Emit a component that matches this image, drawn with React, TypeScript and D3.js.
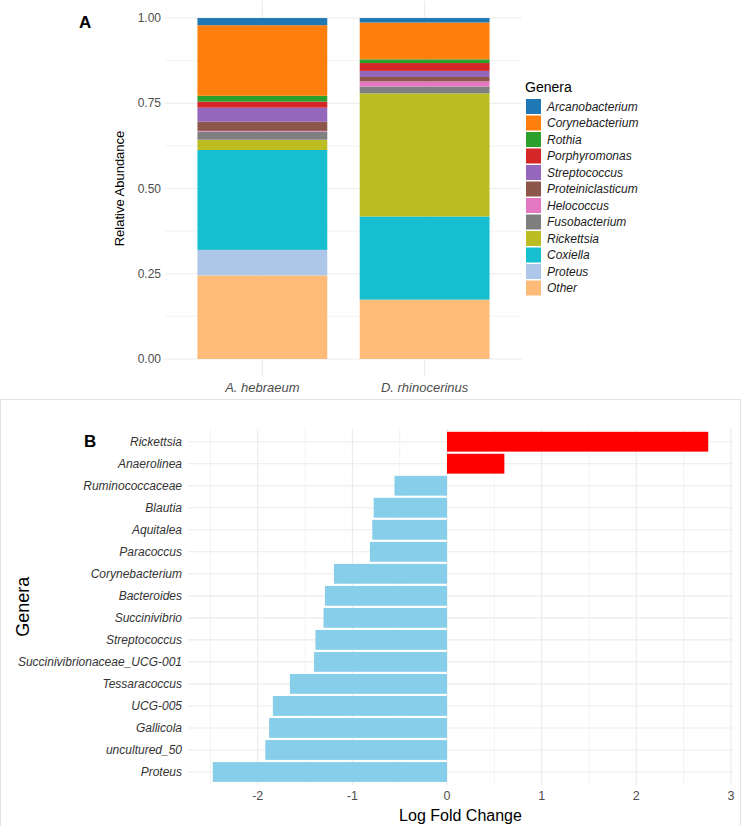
import * as d3 from 'd3';

// Panel A: relative abundance per tick species
const samples = ['A. hebraeum', 'D. rhinocerinus'];
const genera = [
  'Arcanobacterium', 'Corynebacterium', 'Rothia', 'Porphyromonas', 'Streptococcus',
  'Proteiniclasticum', 'Helococcus', 'Fusobacterium', 'Rickettsia', 'Coxiella', 'Proteus', 'Other'
];
const generaColors = [
  '#1F77B4', '#FF7F0E', '#2CA02C', '#D62728', '#9467BD',
  '#8C564B', '#E377C2', '#7F7F7F', '#BCBD22', '#17BECF', '#AEC7E8', '#FFBB78'
];
// values per genus, [A. hebraeum, D. rhinocerinus]
const arcanobacterium = [0.021, 0.013];
const corynebacterium = [0.207, 0.108];
const rothia = [0.017, 0.011];
const porphyromonas = [0.018, 0.023];
const streptococcus = [0.041, 0.018];
const proteiniclasticum = [0.027, 0.013];
const helococcus = [0.002, 0.015];
const fusobacterium = [0.024, 0.02];
const rickettsia = [0.03, 0.361];
const coxiella = [0.293, 0.244];
const proteus = [0.075, 0.0];
const other = [0.245, 0.174];
const abundanceTicks = [0, 0.25, 0.5, 0.75, 1];

// Panel B: log fold change
const lfcGenera = [
  'Rickettsia', 'Anaerolinea', 'Ruminococcaceae', 'Blautia', 'Aquitalea', 'Paracoccus',
  'Corynebacterium', 'Bacteroides', 'Succinivibrio', 'Streptococcus', 'Succinivibrionaceae_UCG-001',
  'Tessaracoccus', 'UCG-005', 'Gallicola', 'uncultured_50', 'Proteus'
];
const lfcValues = [
  2.76, 0.606, -0.555, -0.775, -0.79, -0.815,
  -1.195, -1.29, -1.305, -1.39, -1.405,
  -1.66, -1.84, -1.88, -1.92, -2.475
];
const lfcTicks = [-2, -1, 0, 1, 2, 3];

const FONT = '"Liberation Sans", Arial, sans-serif';
const GRID = '#EBEBEB';
const AXIS_TEXT = '#4D4D4D';

function AbundancePanel() {
  const series = [
    arcanobacterium, corynebacterium, rothia, porphyromonas, streptococcus,
    proteiniclasticum, helococcus, fusobacterium, rickettsia, coxiella, proteus, other
  ];
  const rows = samples.map((s, i) => {
    const row: any = { sample: s };
    genera.forEach((g, j) => { row[g] = series[j][i]; });
    return row;
  });
  // Other at the bottom, Arcanobacterium on top
  const stack = d3.stack<any>().keys([...genera].reverse());
  const layers = stack(rows);
  const color = d3.scaleOrdinal<string, string>().domain(genera).range(generaColors);

  const x = d3.scaleBand().domain(samples).range([165, 522]).paddingInner(0.2).paddingOuter(0.2);
  const y = d3.scaleLinear().domain([-0.05, 1.05]).range([376, 1]);
  const minor = [0.125, 0.375, 0.625, 0.875];

  return (
    <g>
      <text x={79} y={28} fontSize={17} fontWeight="bold" fill="#000">A</text>
      {minor.map(t => (
        <line key={'m' + t} x1={165} x2={522} y1={y(t)} y2={y(t)} stroke={GRID} strokeWidth={0.6} />
      ))}
      {abundanceTicks.map(t => (
        <line key={'g' + t} x1={165} x2={522} y1={y(t)} y2={y(t)} stroke={GRID} strokeWidth={1.1} />
      ))}
      {samples.map(s => (
        <line key={'v' + s} x1={x(s)! + x.bandwidth() / 2} x2={x(s)! + x.bandwidth() / 2}
          y1={1} y2={376} stroke={GRID} strokeWidth={1.1} />
      ))}
      {layers.map(layer => (
        <g key={layer.key} fill={color(layer.key)}>
          {layer.map((d, i) => (
            <rect key={i} x={x(samples[i])} width={x.bandwidth()}
              y={y(d[1])} height={Math.max(0, y(d[0]) - y(d[1]))} />
          ))}
        </g>
      ))}
      {abundanceTicks.map(t => (
        <text key={'t' + t} x={161} y={y(t)} dy="0.35em" textAnchor="end"
          fontSize={12} fill={AXIS_TEXT}>{t.toFixed(2)}</text>
      ))}
      {samples.map(s => (
        <text key={'x' + s} x={x(s)! + x.bandwidth() / 2} y={392} textAnchor="middle"
          fontSize={13} fontStyle="italic" fill={AXIS_TEXT}>{s}</text>
      ))}
      <text x={0} y={0} transform={`translate(124,${(1 + 376) / 2}) rotate(-90)`}
        textAnchor="middle" fontSize={13} fill="#000">Relative Abundance</text>

      {/* Legend */}
      <text x={525} y={92} fontSize={14} fill="#000">Genera</text>
      {genera.map((g, i) => {
        const cy = 106.5 + i * 16.5;
        return (
          <g key={'l' + g}>
            <rect x={526} y={cy - 7.5} width={15} height={15} fill={color(g)} />
            <text x={547} y={cy} dy="0.35em" fontSize={12} fontStyle="italic" fill="#1a1a1a">{g}</text>
          </g>
        );
      })}
    </g>
  );
}

function FoldChangePanel() {
  const ext = d3.extent(lfcValues) as [number, number];
  const pad = (ext[1] - ext[0]) * 0.05;
  const x = d3.scaleLinear().domain([ext[0] - pad, ext[1] + pad]).range([188, 733]);
  const y = d3.scaleBand().domain(lfcGenera).range([428.5, 785.2]).paddingInner(0.1).paddingOuter(0.15);
  const minorTicks = d3.range(-2.5, 3.01, 1);
  const top = 428.5;
  const bottom = 785.2;

  return (
    <g>
      <rect x={0.5} y={399.5} width={740} height={430} fill="none" stroke="#E3E3E3" strokeWidth={1} />
      <text x={84} y={447} fontSize={17} fontWeight="bold" fill="#000">B</text>
      {minorTicks.map(t => (
        <line key={'m' + t} x1={x(t)} x2={x(t)} y1={top} y2={bottom} stroke={GRID} strokeWidth={0.6} />
      ))}
      {lfcTicks.map(t => (
        <line key={'g' + t} x1={x(t)} x2={x(t)} y1={top} y2={bottom} stroke={GRID} strokeWidth={1.1} />
      ))}
      {lfcGenera.map(g => (
        <line key={'h' + g} x1={188} x2={733} y1={y(g)! + y.bandwidth() / 2} y2={y(g)! + y.bandwidth() / 2}
          stroke={GRID} strokeWidth={1.1} />
      ))}
      {lfcGenera.map((g, i) => {
        const v = lfcValues[i];
        return (
          <rect key={'b' + g} x={x(Math.min(0, v))} width={Math.abs(x(v) - x(0))}
            y={y(g)} height={y.bandwidth()} fill={v > 0 ? '#FF0000' : '#87CEEB'} />
        );
      })}
      {lfcGenera.map(g => (
        <text key={'y' + g} x={182} y={y(g)! + y.bandwidth() / 2} dy="0.35em" textAnchor="end"
          fontSize={12} fontStyle="italic" fill="#333">{g}</text>
      ))}
      {lfcTicks.map(t => (
        <text key={'t' + t} x={x(t)} y={800} textAnchor="middle" fontSize={12.5} fill={AXIS_TEXT}>{t}</text>
      ))}
      <text x={(188 + 733) / 2} y={821} textAnchor="middle" fontSize={16} fill="#000">Log Fold Change</text>
      <text x={0} y={0} transform={`translate(29,${(top + bottom) / 2}) rotate(-90)`}
        textAnchor="middle" fontSize={18} fill="#000">Genera</text>
    </g>
  );
}

export default function App() {
  return (
    <div style={{ position: 'absolute', left: 0, top: 0 }}>
      <svg width={741} height={826} style={{ display: 'block', background: '#fff', fontFamily: FONT }}>
        <AbundancePanel />
        <FoldChangePanel />
      </svg>
    </div>
  );
}
